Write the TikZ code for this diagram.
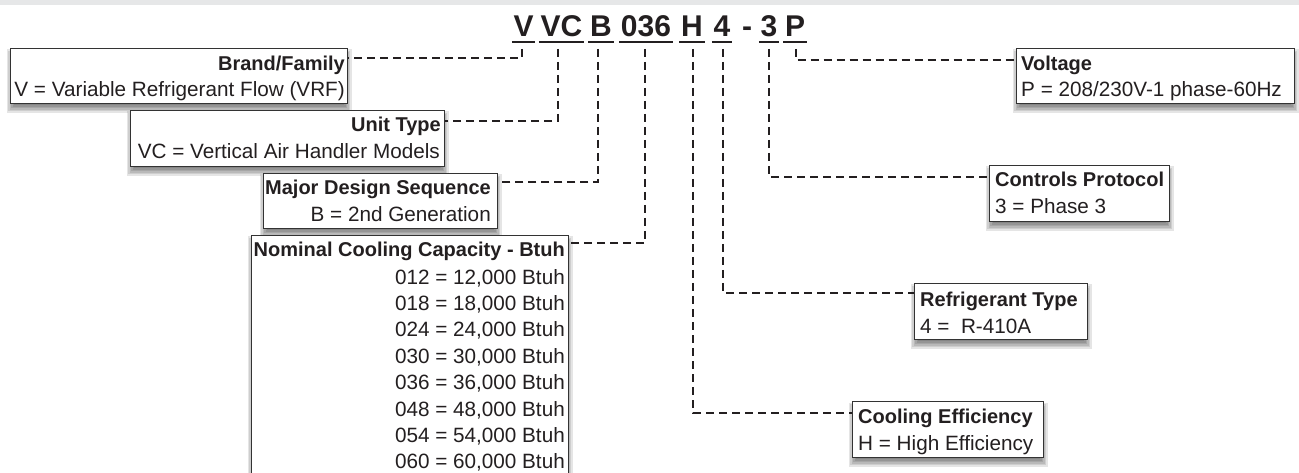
\documentclass[tikz,border=0pt]{standalone}
\usepackage{fontspec}
\setmainfont{Liberation Sans}
\usetikzlibrary{backgrounds}
\definecolor{ink}{HTML}{231F20}
\definecolor{boxc}{HTML}{333333}
\definecolor{band}{HTML}{E6E7E8}
\tikzset{
  box/.style={draw=boxc, line width=1.4pt, fill=white, inner sep=0pt, anchor=north west},
  hd/.style={inner sep=0pt, text=ink, font=\fontsize{20}{24}\selectfont\bfseries},
  bd/.style={inner sep=0pt, text=ink, font=\fontsize{20.7}{24}\selectfont},
  code/.style={inner sep=0pt, anchor=base, text=ink, font=\fontsize{30}{30}\selectfont\bfseries},
  uline/.style={draw=ink, line width=2.6pt},
  conn/.style={draw=ink, line width=2pt, dash pattern=on 8pt off 5pt},
}
\begin{document}
\begin{tikzpicture}[x=1pt,y=-1pt]
\useasboundingbox (0,0) rectangle (1299,473);
\fill[band] (0,0) rectangle (1299,5);

% model code
\node[code] (cV) at (523.5,37) {V};
\node[code] (cVC) at (561.5,37) {VC};
\node[code] (cB) at (601,37) {B};
\node[code] (c036) at (646,37) {036};
\node[code] (cH) at (692,37) {H};
\node[code] (c4) at (722,37) {4};
\node[code] (cdash) at (747,37) {-};
\node[code] (c3) at (769,37) {3};
\node[code] (cP) at (795,37) {P};
\foreach \c in {cV,cVC,cB,c036,cH,c4,c3,cP}
  \draw[uline] ([shift={(-1.5,5)}]\c.base west) -- ([shift={(1.5,5)}]\c.base east);

% boxes
\node[box, minimum width=337pt, minimum height=55pt] (brand) at (10,48) {};
\node[box, minimum width=314pt, minimum height=56pt] (unit) at (130,110) {};
\node[box, minimum width=234pt, minimum height=55pt] (major) at (263,173) {};
\node[box, minimum width=317pt, minimum height=270pt] (nom) at (251,235) {};
\node[box, minimum width=278pt, minimum height=55pt] (volt) at (1016,48) {};
\node[box, minimum width=180pt, minimum height=56pt] (ctrl) at (989,165) {};
\node[box, minimum width=173pt, minimum height=56pt] (ref) at (914,283) {};
\node[box, minimum width=191pt, minimum height=56pt] (eff) at (852,401) {};

% texts
\node[hd, anchor=base east] (brandT) at (345,71) {Brand/Family};
\node[bd, anchor=base east] (brandB) at (345,97) {V = Variable Refrigerant Flow (VRF)};
\node[hd, anchor=base east] (unitT) at (441,132) {Unit Type};
\node[bd, anchor=base east] (unitB) at (440,159) {VC = Vertical Air Handler Models};
\node[hd, anchor=base east] (majorT) at (491,195) {Major Design Sequence};
\node[bd, anchor=base east] (majorB) at (491,222) {B = 2nd Generation};
\node[hd, anchor=base east] (nomT) at (565,257) {Nominal Cooling Capacity - Btuh};
\foreach \v/\t [count=\i from 0] in {012/12,018/18,024/24,030/30,036/36,048/48,054/54,060/60}
  \node[bd, anchor=base east] (nom\i) at (565,{284+26.4*\i}) {\v\ = \t,000 Btuh};
\node[hd, anchor=base west] (voltT) at (1021,70.5) {Voltage};
\node[bd, anchor=base west] (voltB) at (1021,97) {P = 208/230V-1 phase-60Hz};
\node[hd, anchor=base west] (ctrlT) at (995,187) {Controls Protocol};
\node[bd, anchor=base west] (ctrlB) at (995,214) {3 = Phase 3};
\node[hd, anchor=base west] (refT) at (920,306) {Refrigerant Type};
\node[bd, anchor=base west] (refB) at (920,333) {4 =~ R-410A};
\node[hd, anchor=base west] (effT) at (858,423) {Cooling Efficiency};
\node[bd, anchor=base west] (effB) at (858,450) {H = High Efficiency};

% connectors
\draw[conn] ([shift={(-2,12)}]cV.base) |- ([yshift=-10pt]brand.north east);
\draw[conn] ([shift={(-3.5,12)}]cVC.base) |- ([yshift=-11pt]unit.north east);
\draw[conn] ([shift={(-2.7,12)}]cB.base) |- ([yshift=-9pt]major.north east);
\draw[conn] ([shift={(-1,12)}]c036.base) |- ([yshift=-8pt]nom.north east);
\draw[conn] ([shift={(1.3,12)}]cH.base) |- ([yshift=-12pt]eff.north west);
\draw[conn] ([shift={(1.3,12)}]c4.base) |- ([yshift=-10pt]ref.north west);
\draw[conn] ([shift={(0.3,12)}]c3.base) |- ([yshift=-12pt]ctrl.north west);
\draw[conn] ([shift={(0.7,12)}]cP.base) |- ([yshift=-12pt]volt.north west);

% shadows
\begin{scope}[on background layer]
\foreach \n in {brand,unit,major,nom,volt,ctrl,ref,eff}{
  \foreach \d in {0,1.5,3,4.5,6,7.5}{
    \fill[black, opacity=0.1] ([shift={({4-\d},{9-\d})}]\n.north west) rectangle ([shift={({\d-4},{\d+1})}]\n.south east);
  }
}
\end{scope}
\end{tikzpicture}
\end{document}
